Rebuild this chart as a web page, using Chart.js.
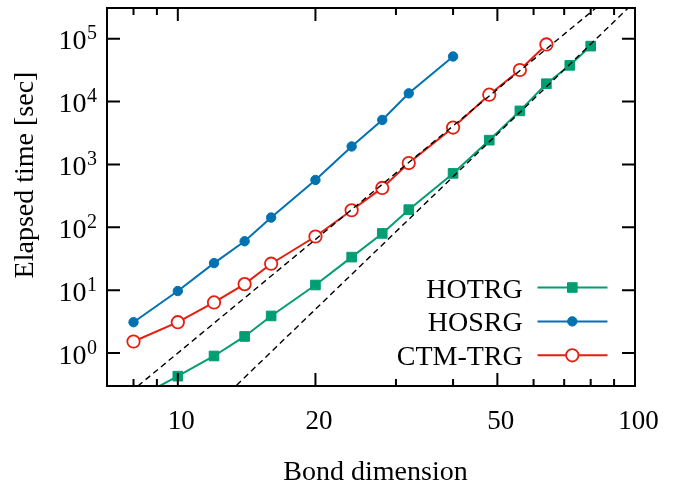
<!DOCTYPE html>
<html>
<head>
<meta charset="utf-8">
<script src="https://cdn.jsdelivr.net/npm/chart.js"></script>
<style>
  html, body { margin: 0; padding: 0; background: #fff; }
  #wrap { width: 681px; height: 485px; }
</style>
</head>
<body>
<div id="wrap"><canvas id="timing" width="681" height="485"></canvas></div>
<script>
// bond dimension vs elapsed time [sec]
const dimHOTRG = [8, 10, 12, 14, 16, 20, 24, 28, 32, 40, 48, 56, 64, 72, 80];
const timeHOTRG = [0.18, 0.43, 0.9, 1.84, 3.9, 12.1, 33.6, 80, 191, 720, 2430, 7100, 19200, 37600, 76000];
const dimHOSRG = [8, 10, 12, 14, 16, 20, 24, 28, 32, 40];
const timeHOSRG = [3.1, 9.7, 27, 60, 143, 566, 1930, 5100, 13500, 52000];
const dimCTM = [8, 10, 12, 14, 16, 20, 24, 28, 32, 40, 48, 56, 64];
const timeCTM = [1.53, 3.1, 6.4, 12.5, 26.4, 71.5, 187, 423, 1052, 3860, 12860, 31700, 80900];

// dashed guides, end points only (straight in log-log)
const guideDims = [7, 100];
const guideSix = [0.118, 1.0e6];
const guideSeven = [0.0032, 3.9e5];

// axis ticks
const xMajorTicks = [10, 20, 50, 100];
const xMinorTicks = [8, 9, 30, 40, 60, 70, 80, 90];
const yTickPowers = [0, 1, 2, 3, 4, 5];

const SERIF = '"Liberation Serif", "Times New Roman", serif';

function pts(xs, ys) {
    return xs.map((v, i) => ({ x: v, y: ys[i] }));
}

function series(label, xs, ys, color, style, radius, fill) {
    return {
        label: label,
        data: pts(xs, ys),
        borderColor: color,
        borderWidth: 2,
        pointStyle: style,
        pointRadius: radius,
        pointBorderWidth: style === 'circle' && fill === '#fff' ? 1.8 : 1,
        pointBorderColor: color,
        pointBackgroundColor: fill,
        tension: 0,
        clip: 0,
        order: 1
    };
}

function guide(ys) {
    return {
        label: '',
        data: pts(guideDims, ys),
        borderColor: '#000',
        borderWidth: 1.4,
        borderDash: [6, 4],
        pointRadius: 0,
        clip: 0,
        order: 0
    };
}

// border, inward ticks, tick labels and axis titles
const frame = {
    id: 'frame',
    afterDraw(chart) {
        const { ctx, chartArea: a, scales: { x, y } } = chart;
        ctx.save();
        ctx.strokeStyle = '#000';
        ctx.lineWidth = 2;
        ctx.beginPath();
        const xTick = (v, len) => {
            const px = x.getPixelForValue(v);
            ctx.moveTo(px, a.bottom); ctx.lineTo(px, a.bottom - len);
            ctx.moveTo(px, a.top); ctx.lineTo(px, a.top + len);
        };
        xMajorTicks.forEach(v => xTick(v, 13));
        xMinorTicks.forEach(v => xTick(v, 7));
        yTickPowers.forEach(p => {
            const py = y.getPixelForValue(Math.pow(10, p));
            ctx.moveTo(a.left, py); ctx.lineTo(a.left + 13, py);
            ctx.moveTo(a.right, py); ctx.lineTo(a.right - 13, py);
        });
        ctx.stroke();
        ctx.strokeRect(a.left, a.top, a.right - a.left, a.bottom - a.top);

        ctx.fillStyle = '#000';
        // x tick labels
        ctx.font = '27px ' + SERIF;
        ctx.textAlign = 'center';
        ctx.textBaseline = 'alphabetic';
        xMajorTicks.forEach(v => {
            ctx.fillText(String(v), x.getPixelForValue(v) + 3.5, a.bottom + 43);
        });
        // y tick labels: 10 with a raised exponent
        yTickPowers.forEach(p => {
            const py = y.getPixelForValue(Math.pow(10, p));
            ctx.font = '20px ' + SERIF;
            const supW = ctx.measureText(String(p)).width;
            ctx.textAlign = 'left';
            ctx.fillText(String(p), a.left - 10 - supW, py + 0.5);
            ctx.font = '28px ' + SERIF;
            ctx.textAlign = 'right';
            ctx.fillText('10', a.left - 10 - supW - 0.5, py + 10.5);
        });
        // axis titles
        ctx.font = '28px ' + SERIF;
        ctx.textAlign = 'center';
        ctx.fillText('Bond dimension', 375.5, 480);
        ctx.translate(33, 175);
        ctx.rotate(-Math.PI / 2);
        ctx.fillText('Elapsed time [sec]', 0, 0);
        ctx.restore();
    }
};

function marker(ctx, ds, cx, cy) {
    ctx.save();
    ctx.lineWidth = ds.pointBorderWidth;
    ctx.strokeStyle = ds.pointBorderColor;
    ctx.fillStyle = ds.pointBackgroundColor;
    ctx.beginPath();
    if (ds.pointStyle === 'rect') {
        const h = ds.pointRadius * Math.SQRT1_2;
        ctx.rect(cx - h, cy - h, 2 * h, 2 * h);
    } else {
        ctx.arc(cx, cy, ds.pointRadius, 0, Math.PI * 2);
    }
    ctx.fill();
    ctx.stroke();
    ctx.restore();
}

// key in the lower right corner: text, then line with marker
const keyBox = {
    id: 'keyBox',
    afterDatasetsDraw(chart) {
        const ctx = chart.ctx;
        const entries = chart.data.datasets.filter(d => d.label);
        ctx.save();
        ctx.font = '28px ' + SERIF;
        ctx.textAlign = 'right';
        ctx.textBaseline = 'alphabetic';
        entries.forEach((ds, i) => {
            const ly = 287.5 + i * 33.9;
            ctx.fillStyle = '#000';
            ctx.fillText(ds.label, 522.7, ly + 10);
            ctx.strokeStyle = ds.borderColor;
            ctx.lineWidth = ds.borderWidth;
            ctx.beginPath();
            ctx.moveTo(537.5, ly);
            ctx.lineTo(607.5, ly);
            ctx.stroke();
            marker(ctx, ds, 572.3, ly);
        });
        ctx.restore();
    }
};

new Chart(document.getElementById('timing'), {
    type: 'line',
    data: {
        datasets: [
            guide(guideSix),
            guide(guideSeven),
            series('HOTRG', dimHOTRG, timeHOTRG, '#009e73', 'rect', 6.8, '#009e73'),
            series('HOSRG', dimHOSRG, timeHOSRG, '#0072b2', 'circle', 4.7, '#0072b2'),
            series('CTM-TRG', dimCTM, timeCTM, '#e51e10', 'circle', 6.2, '#fff')
        ]
    },
    options: {
        responsive: false,
        animation: false,
        layout: { padding: { left: 107, right: 46, top: 7, bottom: 99 } },
        scales: {
            x: { type: 'logarithmic', min: 7, max: 100, display: false },
            y: { type: 'logarithmic', min: 0.3, max: 3.07e5, display: false }
        },
        plugins: {
            legend: { display: false },
            tooltip: { enabled: false }
        }
    },
    plugins: [frame, keyBox]
});
</script>
</body>
</html>
